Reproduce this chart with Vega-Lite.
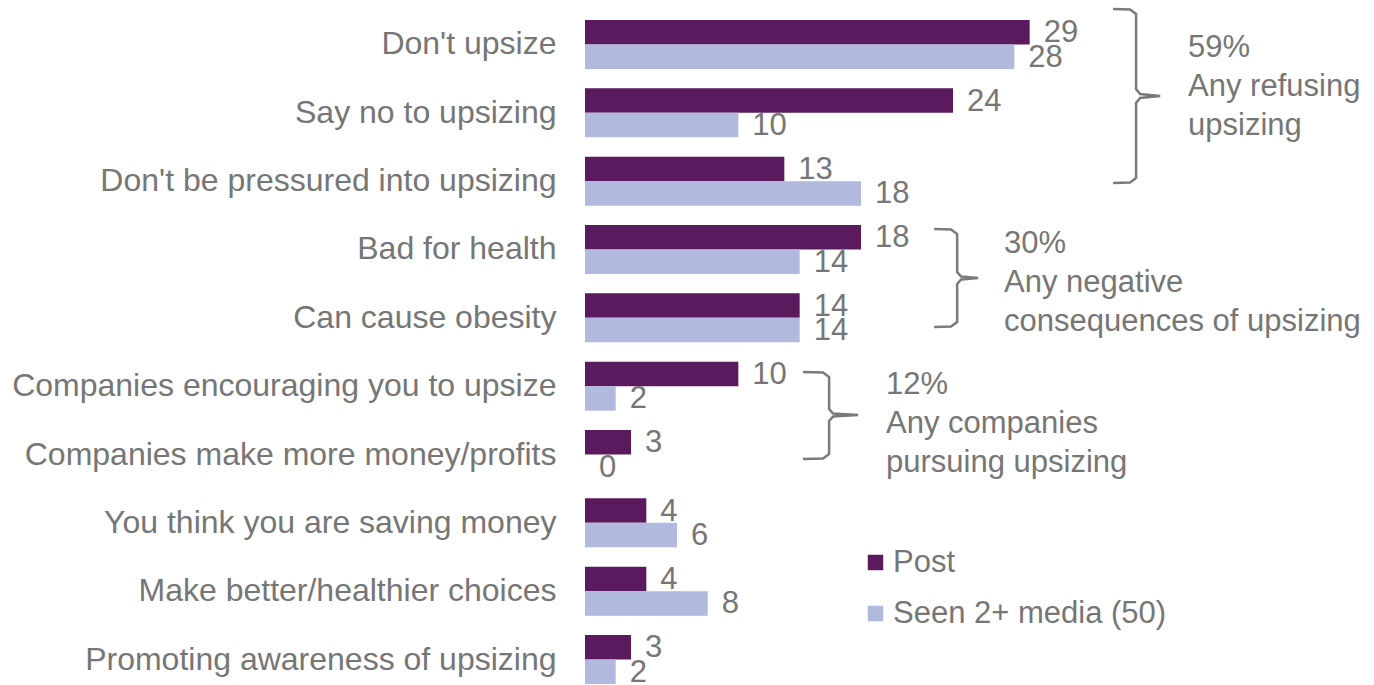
{
  "$schema": "https://vega.github.io/schema/vega-lite/v6.json",
  "width": 782,
  "height": 664,
  "autosize": {"type": "none"},
  "padding": {"left": 585, "top": 20, "right": 7, "bottom": 1},
  "background": "white",
  "config": {
    "font": "Liberation Sans",
    "view": {"stroke": null},
    "text": {"font": "Liberation Sans"}
  },
  "datasets": {
    "bars": [
      {"category": "Don't upsize", "series": "Post", "value": 29},
      {"category": "Don't upsize", "series": "Seen 2+ media (50)", "value": 28},
      {"category": "Say no to upsizing", "series": "Post", "value": 24},
      {"category": "Say no to upsizing", "series": "Seen 2+ media (50)", "value": 10},
      {"category": "Don't be pressured into upsizing", "series": "Post", "value": 13},
      {"category": "Don't be pressured into upsizing", "series": "Seen 2+ media (50)", "value": 18},
      {"category": "Bad for health", "series": "Post", "value": 18},
      {"category": "Bad for health", "series": "Seen 2+ media (50)", "value": 14},
      {"category": "Can cause obesity", "series": "Post", "value": 14},
      {"category": "Can cause obesity", "series": "Seen 2+ media (50)", "value": 14},
      {"category": "Companies encouraging you to upsize", "series": "Post", "value": 10},
      {"category": "Companies encouraging you to upsize", "series": "Seen 2+ media (50)", "value": 2},
      {"category": "Companies make more money/profits", "series": "Post", "value": 3},
      {"category": "Companies make more money/profits", "series": "Seen 2+ media (50)", "value": 0},
      {"category": "You think you are saving money", "series": "Post", "value": 4},
      {"category": "You think you are saving money", "series": "Seen 2+ media (50)", "value": 6},
      {"category": "Make better/healthier choices", "series": "Post", "value": 4},
      {"category": "Make better/healthier choices", "series": "Seen 2+ media (50)", "value": 8},
      {"category": "Promoting awareness of upsizing", "series": "Post", "value": 3},
      {"category": "Promoting awareness of upsizing", "series": "Seen 2+ media (50)", "value": 2}
    ],
    "brackets": [
      {"bracket": "refusing", "i": 1, "bx": 34.44, "by": -0.161},
      {"bracket": "refusing", "i": 2, "bx": 35.55, "by": -0.154},
      {"bracket": "refusing", "i": 3, "bx": 35.94, "by": -0.088},
      {"bracket": "refusing", "i": 4, "bx": 35.94, "by": 1.010},
      {"bracket": "refusing", "i": 5, "bx": 36.20, "by": 1.083},
      {"bracket": "refusing", "i": 6, "bx": 37.51, "by": 1.112},
      {"bracket": "refusing", "i": 7, "bx": 36.20, "by": 1.142},
      {"bracket": "refusing", "i": 8, "bx": 35.94, "by": 1.215},
      {"bracket": "refusing", "i": 9, "bx": 35.94, "by": 2.312},
      {"bracket": "refusing", "i": 10, "bx": 35.55, "by": 2.378},
      {"bracket": "refusing", "i": 11, "bx": 34.44, "by": 2.385},
      {"bracket": "negative", "i": 1, "bx": 22.77, "by": 3.059},
      {"bracket": "negative", "i": 2, "bx": 23.87, "by": 3.066},
      {"bracket": "negative", "i": 3, "bx": 24.27, "by": 3.132},
      {"bracket": "negative", "i": 4, "bx": 24.27, "by": 3.688},
      {"bracket": "negative", "i": 5, "bx": 24.53, "by": 3.754},
      {"bracket": "negative", "i": 6, "bx": 25.64, "by": 3.776},
      {"bracket": "negative", "i": 7, "bx": 24.53, "by": 3.798},
      {"bracket": "negative", "i": 8, "bx": 24.27, "by": 3.864},
      {"bracket": "negative", "i": 9, "bx": 24.27, "by": 4.420},
      {"bracket": "negative", "i": 10, "bx": 23.87, "by": 4.486},
      {"bracket": "negative", "i": 11, "bx": 22.77, "by": 4.493},
      {"bracket": "companies", "i": 1, "bx": 14.22, "by": 5.151},
      {"bracket": "companies", "i": 2, "bx": 15.53, "by": 5.159},
      {"bracket": "companies", "i": 3, "bx": 15.92, "by": 5.225},
      {"bracket": "companies", "i": 4, "bx": 15.92, "by": 5.693},
      {"bracket": "companies", "i": 5, "bx": 16.18, "by": 5.759},
      {"bracket": "companies", "i": 6, "bx": 17.81, "by": 5.781},
      {"bracket": "companies", "i": 7, "bx": 16.18, "by": 5.803},
      {"bracket": "companies", "i": 8, "bx": 15.92, "by": 5.868},
      {"bracket": "companies", "i": 9, "bx": 15.92, "by": 6.351},
      {"bracket": "companies", "i": 10, "bx": 15.53, "by": 6.417},
      {"bracket": "companies", "i": 11, "bx": 14.22, "by": 6.424}
    ],
    "notes": [
      {"note": "59%\nAny refusing\nupsizing", "nx": 39.33, "ny": 0.410},
      {"note": "30%\nAny negative\nconsequences of upsizing", "nx": 27.33, "ny": 3.278},
      {"note": "12%\nAny companies\npursuing upsizing", "nx": 19.63, "ny": 5.342}
    ]
  },
  "layer": [
    {
      "data": {"name": "bars"},
      "mark": {"type": "bar"},
      "encoding": {
        "y": {
          "field": "category", "type": "nominal", "sort": null,
          "scale": {"paddingInner": 0.283, "paddingOuter": 0},
          "axis": {
            "title": null, "ticks": false, "domain": false,
            "labelFontSize": 32, "labelColor": "#767676",
            "labelPadding": 29, "labelLimit": 800,
            "labelFont": "Liberation Sans"
          }
        },
        "yOffset": {"field": "series", "type": "nominal", "sort": ["Post", "Seen 2+ media (50)"]},
        "x": {"field": "value", "type": "quantitative", "scale": {"domain": [0, 51], "nice": false}, "axis": null},
        "color": {
          "field": "series", "type": "nominal",
          "scale": {"domain": ["Post", "Seen 2+ media (50)"], "range": ["#5c1a5e", "#b1b9de"]},
          "legend": {
            "title": null, "orient": "none", "legendX": 275, "legendY": 527,
            "padding": 0, "symbolType": "square", "symbolSize": 240,
            "symbolStrokeWidth": 0, "labelFontSize": 31, "labelColor": "#767676",
            "labelFont": "Liberation Sans", "labelOffset": 2, "rowPadding": 19,
            "labelLimit": 500
          }
        }
      }
    },
    {
      "data": {"name": "bars"},
      "mark": {"type": "text", "align": "left", "baseline": "middle", "dx": 14, "dy": 1, "fontSize": 31, "color": "#767676"},
      "encoding": {
        "y": {"field": "category", "type": "nominal", "sort": null, "scale": {"paddingInner": 0.283, "paddingOuter": 0}, "axis": null},
        "yOffset": {"field": "series", "type": "nominal", "sort": ["Post", "Seen 2+ media (50)"]},
        "x": {"field": "value", "type": "quantitative", "scale": {"domain": [0, 51], "nice": false}, "axis": null},
        "text": {"field": "value", "type": "quantitative"}
      }
    },
    {
      "data": {"name": "brackets"},
      "mark": {"type": "line", "color": "#7a7a7a", "strokeWidth": 2.5, "interpolate": "linear", "clip": false},
      "encoding": {
        "x": {"field": "bx", "type": "quantitative", "scale": {"domain": [0, 51], "nice": false}, "axis": null},
        "y": {"field": "by", "type": "quantitative", "scale": {"domain": [0, 9.717], "reverse": true, "nice": false, "zero": false}, "axis": null},
        "detail": {"field": "bracket", "type": "nominal"},
        "order": {"field": "i", "type": "quantitative"}
      }
    },
    {
      "data": {"name": "notes"},
      "mark": {"type": "text", "align": "left", "baseline": "middle", "fontSize": 31, "lineHeight": 39, "lineBreak": "\n", "color": "#767676"},
      "encoding": {
        "x": {"field": "nx", "type": "quantitative", "scale": {"domain": [0, 51], "nice": false}, "axis": null},
        "y": {"field": "ny", "type": "quantitative", "scale": {"domain": [0, 9.717], "reverse": true, "nice": false, "zero": false}, "axis": null},
        "text": {"field": "note", "type": "nominal"}
      }
    }
  ],
  "resolve": {"scale": {"y": "independent"}, "axis": {"y": "independent"}}
}
